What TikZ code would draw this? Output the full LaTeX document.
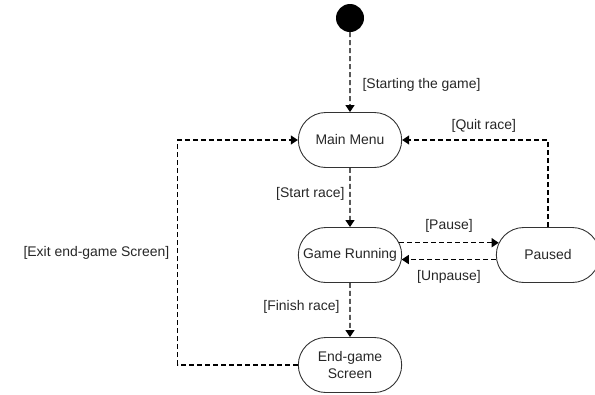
\documentclass[tikz,border=0pt]{standalone}
\usepackage{fontspec}
\setmainfont{Liberation Sans}
\usetikzlibrary{arrows.meta, shapes.misc}
\begin{document}
\begin{tikzpicture}[x=1bp, y=-1bp,
    state/.style={rounded rectangle, draw=black!80, line width=0.9bp, minimum width=110bp, minimum height=55bp, align=center, font=\fontsize{14}{17}\selectfont, text=black!85},
    trans/.style={dash pattern=on 5bp off 3bp, line width=1.2bp, -{Triangle[length=7bp, width=9bp]}},
    lbl/.style={font=\fontsize{14}{17}\selectfont, text=black!85, inner sep=0pt}]
      \def\gap{120}

      \useasboundingbox (0, 0) rectangle (595, 394) ;

      \node[circle, fill=black, minimum size=28bp, inner sep=0pt] (init) at (350, 18) {} ;
      \node[state] (menu) at (350, 140) {Main Menu} ;
      \node[state] (run) at (350, 255) {Game Running} ;
      \node[state] (paused) at (548, 255) {Paused} ;
      \node[state] (endgame) at (350, 365) {End-game\\Screen} ;

      \draw[trans] (init) -- (menu) node[lbl, pos=0.66, anchor=west, xshift=12bp] {[Starting the game]} ;
      \draw[trans] (menu) -- (run) node[lbl, pos=0.44, anchor=east, xshift=-5bp] {[Start race]} ;
      \draw[trans] (run.14) -- (paused.166) node[lbl, midway, above=10bp] {[Pause]} ;
      \draw[trans] (paused.185) -- (run.-5) node[lbl, midway, below=10bp] {[Unpause]} ;
      \draw[trans] (paused.north) |- node[lbl, pos=0.72, above=7bp] {[Quit race]} (menu.east) ;
      \draw[trans] (run) -- (endgame) node[lbl, pos=0.45, anchor=east, xshift=-10bp] {[Finish race]} ;
      \draw[trans] (endgame.west) -| node[lbl, pos=0.75, anchor=east, xshift=-8bp] {[Exit end-game Screen]} ([xshift=-\gap bp]menu.west) -- (menu.west) ;
    \end{tikzpicture}
\end{document}
